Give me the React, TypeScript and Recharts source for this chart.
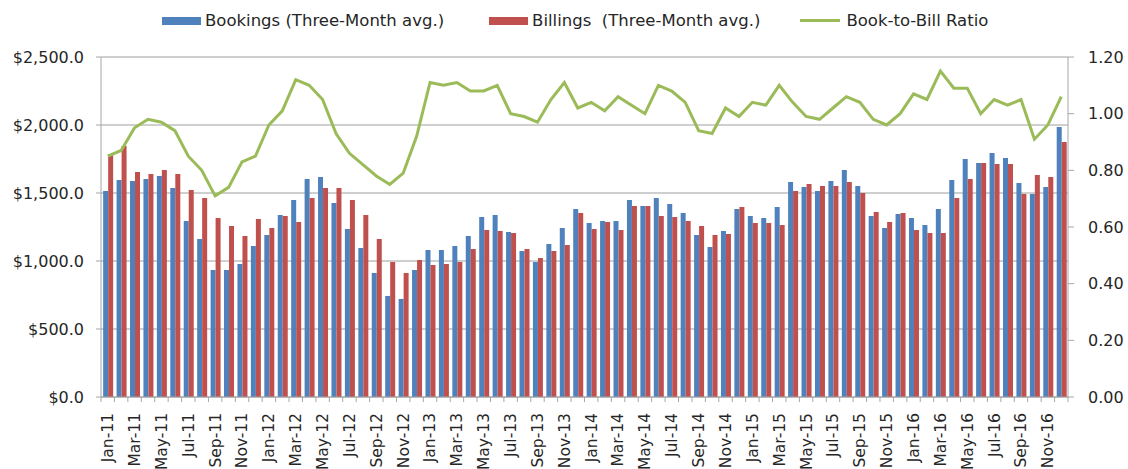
import React from 'react';
import {
  ComposedChart, Bar, Line, XAxis, YAxis, CartesianGrid
} from 'recharts';

// Month labels, Jan-11 .. Dec-16
const months = [
  'Jan-11', 'Feb-11', 'Mar-11', 'Apr-11', 'May-11', 'Jun-11', 'Jul-11', 'Aug-11', 'Sep-11', 'Oct-11', 'Nov-11', 'Dec-11',
  'Jan-12', 'Feb-12', 'Mar-12', 'Apr-12', 'May-12', 'Jun-12', 'Jul-12', 'Aug-12', 'Sep-12', 'Oct-12', 'Nov-12', 'Dec-12',
  'Jan-13', 'Feb-13', 'Mar-13', 'Apr-13', 'May-13', 'Jun-13', 'Jul-13', 'Aug-13', 'Sep-13', 'Oct-13', 'Nov-13', 'Dec-13',
  'Jan-14', 'Feb-14', 'Mar-14', 'Apr-14', 'May-14', 'Jun-14', 'Jul-14', 'Aug-14', 'Sep-14', 'Oct-14', 'Nov-14', 'Dec-14',
  'Jan-15', 'Feb-15', 'Mar-15', 'Apr-15', 'May-15', 'Jun-15', 'Jul-15', 'Aug-15', 'Sep-15', 'Oct-15', 'Nov-15', 'Dec-15',
  'Jan-16', 'Feb-16', 'Mar-16', 'Apr-16', 'May-16', 'Jun-16', 'Jul-16', 'Aug-16', 'Sep-16', 'Oct-16', 'Nov-16', 'Dec-16',
];

// Bookings, three-month average ($M)
const bookings = [
  1515, 1596, 1588, 1603, 1625, 1537, 1294, 1162, 934, 934, 978, 1110,
  1191, 1338, 1449, 1603, 1618, 1426, 1235, 1096, 912, 743, 721, 934,
  1081, 1081, 1110, 1184, 1324, 1338, 1213, 1074, 993, 1125, 1243, 1382,
  1279, 1294, 1294, 1449, 1404, 1463, 1419, 1353, 1191, 1103, 1221, 1382,
  1331, 1316, 1397, 1581, 1544, 1515, 1588, 1669, 1551, 1331, 1243, 1346,
  1316, 1265, 1382, 1596, 1750, 1721, 1794, 1757, 1574, 1493, 1544, 1985,
];

// Billings, three-month average ($M)
const billings = [
  1787, 1846, 1654, 1640, 1669, 1640, 1522, 1463, 1316, 1257, 1184, 1309,
  1243, 1331, 1287, 1463, 1537, 1537, 1449, 1338, 1162, 993, 912, 1007,
  971, 978, 993, 1088, 1228, 1221, 1206, 1088, 1022, 1074, 1118, 1353,
  1235, 1287, 1228, 1404, 1404, 1331, 1324, 1294, 1257, 1191, 1199, 1397,
  1279, 1279, 1265, 1515, 1566, 1551, 1551, 1581, 1500, 1360, 1287, 1353,
  1228, 1206, 1206, 1463, 1603, 1721, 1713, 1713, 1493, 1632, 1618, 1875,
];

// Book-to-bill ratio
const ratio = [
  0.85, 0.87, 0.95, 0.98, 0.97, 0.94, 0.85, 0.80, 0.71, 0.74, 0.83, 0.85,
  0.96, 1.01, 1.12, 1.10, 1.05, 0.93, 0.86, 0.82, 0.78, 0.75, 0.79, 0.92,
  1.11, 1.10, 1.11, 1.08, 1.08, 1.10, 1.00, 0.99, 0.97, 1.05, 1.11, 1.02,
  1.04, 1.01, 1.06, 1.03, 1.00, 1.10, 1.08, 1.04, 0.94, 0.93, 1.02, 0.99,
  1.04, 1.03, 1.10, 1.04, 0.99, 0.98, 1.02, 1.06, 1.04, 0.98, 0.96, 1.00,
  1.07, 1.05, 1.15, 1.09, 1.09, 1.00, 1.05, 1.03, 1.05, 0.91, 0.96, 1.06,
];

const leftTicks = [0, 500, 1000, 1500, 2000, 2500];
const rightTicks = [0, 0.2, 0.4, 0.6, 0.8, 1.0, 1.2];

const data = months.map((m, i) => ({
  month: m,
  bookings: bookings[i],
  billings: billings[i],
  ratio: ratio[i],
}));

const BLUE = '#4F81BD';
const RED = '#C0504D';
const GREEN = '#9BBB59';
const AXIS = '#A6A6A6';
const FONT = "'DejaVu Sans', sans-serif";

const fmtDollar = (v: number) =>
  '$' + v.toLocaleString('en-US', { minimumFractionDigits: 1, maximumFractionDigits: 1 });

// Excel-style category tick: mark at band edge, label on every other month
const MonthTick = (props: any) => {
  const { x, y, payload, index } = props;
  const half = payload && payload.offset ? payload.offset : 6.7;
  const ty = y + 16;
  return (
    <g>
      <line x1={x - half} x2={x - half} y1={y} y2={y + 5} stroke={AXIS} />
      {index === months.length - 1 && (
        <line x1={x + half} x2={x + half} y1={y} y2={y + 5} stroke={AXIS} />
      )}
      {index % 2 === 0 && (
        <text
          x={x}
          y={ty}
          dy="0.35em"
          textAnchor="end"
          transform={`rotate(-90, ${x}, ${ty})`}
          fill="#262626"
          fontSize={15.5}
          fontFamily={FONT}
        >
          {payload.value}
        </text>
      )}
    </g>
  );
};

const LegendRow = () => (
  <div
    style={{
      position: 'absolute', left: 162, top: 11, display: 'flex', alignItems: 'center',
      fontFamily: FONT, fontSize: 16.5, color: '#262626', whiteSpace: 'pre',
    }}
  >
    <span style={{ width: 39, height: 8, background: BLUE, marginRight: 4 }} />
    <span style={{ marginRight: 45 }}>Bookings (Three-Month avg.)</span>
    <span style={{ width: 39, height: 8, background: RED, marginRight: 4 }} />
    <span style={{ marginRight: 40 }}>Billings  (Three-Month avg.)</span>
    <span style={{ width: 40, height: 3, background: GREEN, marginRight: 6 }} />
    <span>Book-to-Bill Ratio</span>
  </div>
);

const App: React.FC = () => {
  return (
    <div style={{ position: 'absolute', left: 0, top: 0, width: 1128, height: 469, background: '#fff' }}>
      <LegendRow />
      <ComposedChart
        width={1128}
        height={469}
        data={data}
        margin={{ top: 57, right: 0, bottom: 0, left: 0 }}
        barCategoryGap="16%"
        barGap={0}
      >
        <CartesianGrid yAxisId="left" vertical={false} stroke="#BFBFBF" strokeWidth={1.5} />
        <XAxis
          dataKey="month"
          height={72}
          interval={0}
          tickLine={false}
          tickSize={0}
          tickMargin={0}
          stroke={AXIS}
          tick={<MonthTick />}
        />
        <YAxis
          yAxisId="left"
          width={101}
          domain={[0, 2500]}
          ticks={leftTicks}
          tickFormatter={fmtDollar}
          stroke={AXIS}
          tickSize={5}
          tickMargin={12}
          tick={{ fill: '#262626', fontSize: 16, fontFamily: FONT }}
        />
        <YAxis
          yAxisId="right"
          orientation="right"
          width={60}
          domain={[0, 1.2]}
          ticks={rightTicks}
          tickFormatter={(v: number) => v.toFixed(2)}
          stroke={AXIS}
          tickSize={6}
          tickMargin={14}
          tick={{ fill: '#262626', fontSize: 16, fontFamily: FONT, textAnchor: 'start' }}
        />
        <Bar yAxisId="left" dataKey="bookings" fill={BLUE} isAnimationActive={false} />
        <Bar yAxisId="left" dataKey="billings" fill={RED} isAnimationActive={false} />
        <Line
          yAxisId="right"
          type="linear"
          dataKey="ratio"
          stroke={GREEN}
          strokeWidth={3}
          dot={false}
          isAnimationActive={false}
        />
      </ComposedChart>
    </div>
  );
};

export default App;
